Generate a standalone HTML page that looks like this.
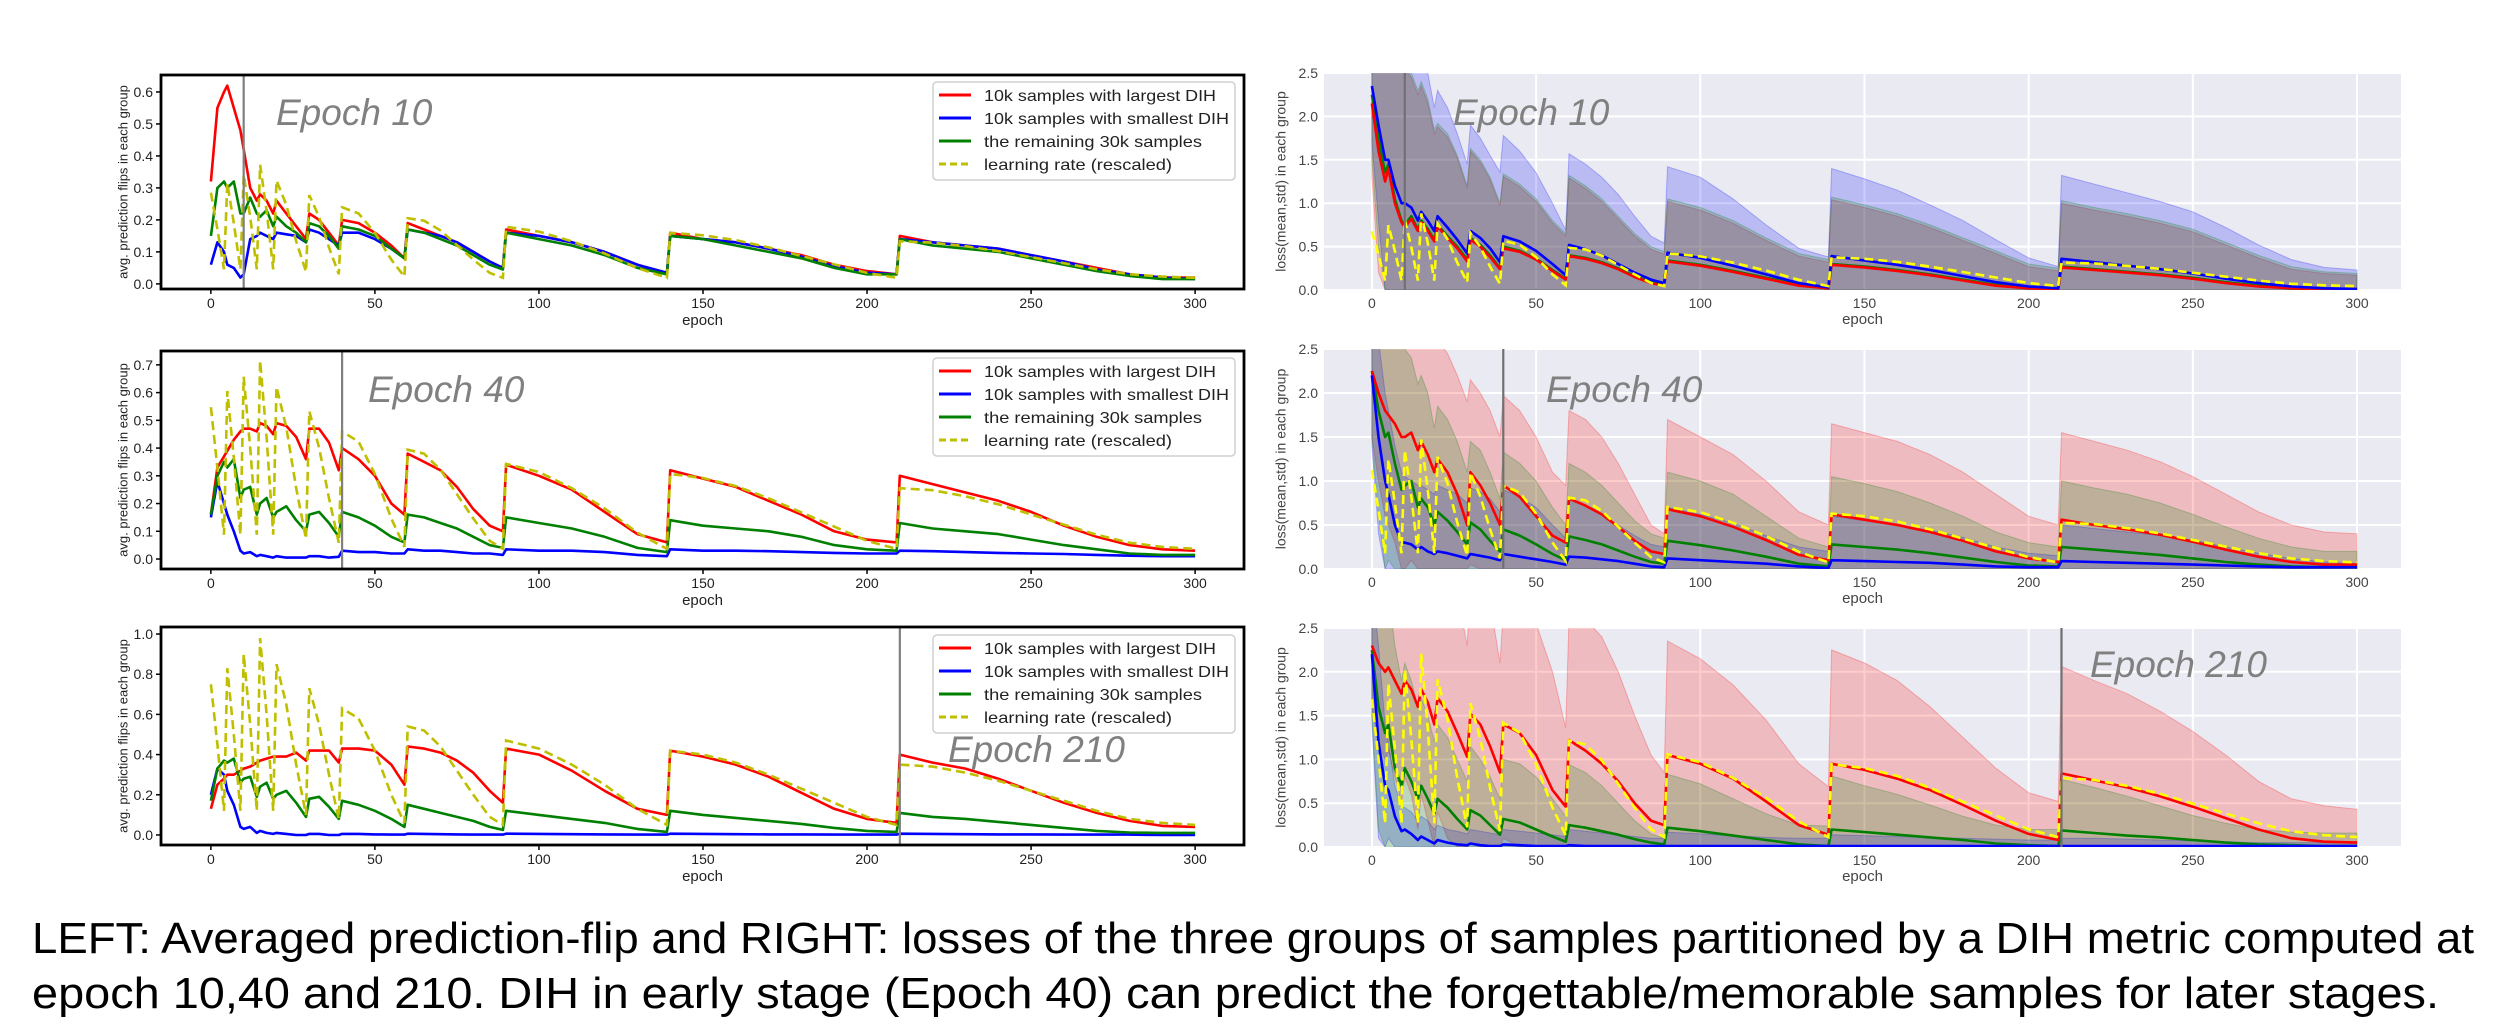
<!DOCTYPE html>
<html><head><meta charset="utf-8"><style>
html,body{margin:0;padding:0;background:#fff;}
svg{display:block;font-family:"Liberation Sans",sans-serif;}
</style></head><body>
<svg id="fig" width="2500" height="1036" viewBox="0 0 2500 1036" xmlns="http://www.w3.org/2000/svg">
<defs id="defs"></defs>
<g id="root"></g>
<text x="32" y="953" font-size="44" textLength="2442" lengthAdjust="spacingAndGlyphs" fill="#000">LEFT: Averaged prediction-flip and RIGHT: losses of the three groups of samples partitioned by a DIH metric computed at</text>
<text x="32" y="1008" font-size="44" textLength="2407" lengthAdjust="spacingAndGlyphs" fill="#000">epoch 10,40 and 210. DIH in early stage (Epoch 40) can predict the forgettable/memorable samples for later stages.</text>
</svg>
<script>
// ---------- data ----------
const epochs = [0,2,4,5,7,9,10,12,14,15,17,19,20,23,26,29,30,33,36,39,40,45,50,55,59,60,65,70,75,80,85,89,90,100,110,120,130,139,140,150,160,170,180,190,200,209,210,220,230,240,250,260,270,280,290,300];
const lrShape = [0.75,0.45,0.12,0.83,0.5,0.12,0.9,0.55,0.12,0.98,0.6,0.12,0.85,0.65,0.35,0.1,0.73,0.55,0.3,0.08,0.63,0.58,0.42,0.2,0.06,0.54,0.52,0.44,0.32,0.2,0.09,0.05,0.47,0.43,0.35,0.25,0.13,0.05,0.42,0.4,0.36,0.3,0.23,0.16,0.09,0.05,0.35,0.34,0.31,0.27,0.22,0.17,0.12,0.08,0.06,0.05];
const lrScaleLeft = [0.38,0.73,1.0];
const lrScaleRight = [0.9,1.5,2.25];
const dihEpochs = [10,40,210];
const leftYTicks = [[0,0.1,0.2,0.3,0.4,0.5,0.6],[0,0.1,0.2,0.3,0.4,0.5,0.6,0.7],[0,0.2,0.4,0.6,0.8,1.0]];
const xTicks = [0,50,100,150,200,250,300];
const rightYTicks = [0,0.5,1.0,1.5,2.0,2.5];
const legendLabels = ["10k samples with largest DIH","10k samples with smallest DIH","the remaining 30k samples","learning rate (rescaled)"];

// left: prediction flips
const l1Red = [0.32,0.55,0.6,0.62,0.55,0.48,0.42,0.3,0.26,0.28,0.26,0.22,0.26,0.22,0.18,0.14,0.22,0.2,0.16,0.12,0.2,0.19,0.16,0.12,0.08,0.19,0.17,0.15,0.13,0.1,0.07,0.05,0.17,0.15,0.13,0.1,0.06,0.03,0.16,0.14,0.13,0.11,0.09,0.06,0.04,0.03,0.15,0.13,0.12,0.11,0.09,0.07,0.05,0.03,0.02,0.02];
const l1Green = [0.15,0.3,0.32,0.3,0.32,0.22,0.22,0.27,0.22,0.21,0.23,0.18,0.21,0.18,0.16,0.13,0.19,0.18,0.15,0.11,0.18,0.17,0.15,0.11,0.08,0.17,0.16,0.14,0.12,0.09,0.06,0.045,0.16,0.14,0.12,0.09,0.05,0.03,0.15,0.14,0.12,0.1,0.08,0.05,0.03,0.03,0.14,0.12,0.11,0.1,0.08,0.06,0.04,0.025,0.015,0.015];
const l1Blue = [0.06,0.13,0.1,0.06,0.05,0.02,0.03,0.14,0.15,0.16,0.15,0.14,0.16,0.155,0.15,0.13,0.17,0.16,0.14,0.12,0.16,0.16,0.14,0.11,0.08,0.17,0.16,0.15,0.13,0.1,0.07,0.05,0.16,0.15,0.13,0.1,0.06,0.035,0.15,0.14,0.13,0.11,0.085,0.055,0.035,0.03,0.14,0.13,0.12,0.11,0.09,0.07,0.045,0.03,0.02,0.015];
const l2Red = [0.16,0.33,0.37,0.39,0.43,0.46,0.47,0.47,0.46,0.49,0.48,0.45,0.49,0.48,0.44,0.36,0.47,0.47,0.42,0.32,0.4,0.36,0.3,0.2,0.16,0.38,0.35,0.32,0.26,0.18,0.12,0.1,0.34,0.3,0.25,0.17,0.09,0.06,0.32,0.29,0.26,0.21,0.16,0.1,0.07,0.06,0.3,0.27,0.24,0.21,0.17,0.12,0.08,0.05,0.035,0.03];
const l2Green = [0.16,0.3,0.35,0.33,0.36,0.22,0.25,0.26,0.16,0.2,0.22,0.15,0.17,0.19,0.14,0.1,0.16,0.17,0.13,0.08,0.17,0.15,0.12,0.08,0.06,0.16,0.15,0.13,0.11,0.08,0.05,0.04,0.15,0.13,0.11,0.08,0.04,0.025,0.14,0.12,0.11,0.1,0.08,0.05,0.035,0.03,0.13,0.11,0.1,0.09,0.07,0.05,0.035,0.02,0.015,0.015];
const l2Blue = [0.15,0.28,0.2,0.16,0.1,0.03,0.02,0.025,0.01,0.015,0.01,0.005,0.01,0.005,0.005,0.005,0.01,0.01,0.005,0.008,0.03,0.025,0.025,0.02,0.02,0.035,0.03,0.03,0.025,0.02,0.02,0.015,0.035,0.03,0.03,0.025,0.015,0.01,0.035,0.03,0.03,0.028,0.025,0.022,0.02,0.02,0.03,0.028,0.025,0.022,0.02,0.018,0.015,0.012,0.01,0.01];
const l3Red = [0.13,0.25,0.28,0.3,0.3,0.32,0.33,0.34,0.36,0.37,0.38,0.39,0.39,0.39,0.41,0.37,0.42,0.42,0.42,0.36,0.43,0.43,0.42,0.35,0.25,0.44,0.43,0.41,0.37,0.31,0.22,0.16,0.43,0.4,0.32,0.22,0.13,0.1,0.42,0.39,0.35,0.29,0.21,0.13,0.08,0.06,0.4,0.36,0.33,0.28,0.22,0.16,0.11,0.07,0.045,0.04];
const l3Green = [0.17,0.33,0.37,0.36,0.38,0.26,0.28,0.29,0.19,0.24,0.26,0.18,0.2,0.22,0.16,0.09,0.18,0.19,0.14,0.08,0.17,0.15,0.12,0.08,0.04,0.15,0.13,0.11,0.09,0.07,0.04,0.025,0.12,0.1,0.08,0.06,0.03,0.015,0.12,0.1,0.085,0.07,0.055,0.035,0.02,0.015,0.11,0.09,0.08,0.065,0.05,0.035,0.02,0.012,0.01,0.01];
const l3Blue = [0.2,0.33,0.3,0.22,0.15,0.04,0.03,0.04,0.01,0.02,0.01,0.005,0.01,0.005,0.0,0.0,0.005,0.005,0.0,0.0,0.005,0.005,0.003,0.002,0.002,0.006,0.005,0.004,0.003,0.002,0.002,0.002,0.006,0.005,0.004,0.003,0.002,0.002,0.006,0.005,0.004,0.003,0.003,0.002,0.002,0.002,0.006,0.005,0.004,0.003,0.003,0.002,0.002,0.002,0.0,0.0];

// right: losses (mean) and upper band (mean+std)
const r1Red = [2.15,1.6,1.25,1.4,1.0,0.78,0.72,0.82,0.68,0.78,0.68,0.56,0.73,0.6,0.48,0.33,0.58,0.5,0.38,0.24,0.48,0.44,0.35,0.22,0.12,0.39,0.36,0.31,0.24,0.15,0.08,0.05,0.33,0.28,0.21,0.13,0.05,0.02,0.29,0.26,0.22,0.17,0.11,0.05,0.02,0.01,0.26,0.23,0.2,0.17,0.13,0.08,0.04,0.02,0.01,0.01];
const r1Green = [2.25,1.75,1.35,1.45,1.05,0.8,0.75,0.85,0.7,0.8,0.7,0.58,0.75,0.62,0.5,0.35,0.6,0.52,0.4,0.25,0.5,0.45,0.36,0.23,0.13,0.4,0.37,0.32,0.25,0.16,0.09,0.06,0.34,0.29,0.22,0.14,0.06,0.02,0.3,0.27,0.23,0.18,0.12,0.06,0.03,0.01,0.27,0.24,0.21,0.18,0.14,0.09,0.05,0.02,0.01,0.01];
const r1Blue = [2.35,1.9,1.5,1.5,1.2,1.0,1.0,0.95,0.8,0.9,0.8,0.68,0.85,0.72,0.58,0.42,0.68,0.6,0.48,0.32,0.62,0.56,0.45,0.3,0.17,0.52,0.47,0.4,0.3,0.2,0.12,0.08,0.43,0.37,0.28,0.18,0.08,0.03,0.39,0.34,0.29,0.23,0.16,0.09,0.04,0.02,0.36,0.32,0.28,0.24,0.19,0.13,0.08,0.04,0.02,0.01];
const r1RedHi = [3,3,3,3,3,3,2.55,2.45,2.25,2.35,2.15,1.8,1.88,1.76,1.52,1.17,1.6,1.47,1.27,0.97,1.31,1.19,1.02,0.77,0.62,1.29,1.17,1.02,0.82,0.62,0.47,0.41,1.02,0.92,0.77,0.57,0.39,0.32,1.04,0.95,0.85,0.72,0.57,0.42,0.27,0.22,1.0,0.92,0.85,0.77,0.67,0.52,0.37,0.24,0.19,0.17];
const r1GreenHi = [3,3,3,3,3,3,2.6,2.5,2.3,2.4,2.2,1.85,1.92,1.8,1.55,1.2,1.63,1.5,1.3,1.0,1.34,1.22,1.05,0.8,0.65,1.32,1.2,1.05,0.85,0.65,0.5,0.44,1.05,0.95,0.8,0.6,0.42,0.35,1.07,0.98,0.88,0.75,0.6,0.45,0.3,0.25,1.03,0.95,0.88,0.8,0.7,0.55,0.4,0.27,0.21,0.19];
const r1BlueHi = [3,3,3,3,3,3,3,3,2.8,2.9,2.5,2.1,2.3,2.1,1.8,1.45,1.9,1.75,1.55,1.36,1.78,1.6,1.35,1.0,0.69,1.57,1.45,1.3,1.1,0.85,0.62,0.54,1.42,1.3,1.05,0.75,0.48,0.38,1.4,1.28,1.15,0.98,0.8,0.58,0.37,0.27,1.32,1.22,1.12,1.02,0.9,0.72,0.52,0.35,0.26,0.23];
const r2Red = [2.25,2.0,1.8,1.75,1.65,1.5,1.5,1.55,1.35,1.45,1.3,1.1,1.25,1.1,0.85,0.5,1.1,0.95,0.75,0.5,0.95,0.82,0.6,0.38,0.3,0.8,0.72,0.62,0.48,0.32,0.2,0.17,0.68,0.6,0.48,0.33,0.16,0.1,0.62,0.56,0.5,0.42,0.32,0.2,0.12,0.08,0.56,0.5,0.45,0.39,0.31,0.22,0.14,0.08,0.05,0.05];
const r2Green = [2.25,1.8,1.5,1.55,1.2,0.9,0.95,1.0,0.7,0.8,0.7,0.5,0.65,0.55,0.42,0.28,0.53,0.45,0.32,0.2,0.45,0.38,0.28,0.17,0.1,0.37,0.33,0.28,0.21,0.14,0.08,0.06,0.32,0.27,0.21,0.14,0.06,0.03,0.28,0.25,0.22,0.18,0.13,0.08,0.04,0.03,0.25,0.22,0.19,0.16,0.12,0.08,0.05,0.03,0.02,0.02];
const r2Blue = [2.2,1.5,1.0,0.85,0.5,0.3,0.3,0.28,0.22,0.25,0.2,0.17,0.2,0.18,0.15,0.12,0.17,0.15,0.13,0.1,0.17,0.14,0.11,0.08,0.05,0.14,0.13,0.11,0.09,0.06,0.03,0.02,0.12,0.1,0.08,0.06,0.03,0.01,0.1,0.09,0.08,0.07,0.05,0.03,0.02,0.02,0.09,0.08,0.07,0.06,0.05,0.04,0.03,0.02,0.02,0.02];
const r2RedHi = [3,3,3,3,3,3,3,3,3,3,3,3,2.6,2.45,2.2,1.9,2.15,2.0,1.8,1.5,1.97,1.8,1.5,1.1,0.95,1.8,1.7,1.5,1.2,0.85,0.5,0.4,1.7,1.5,1.3,1.0,0.65,0.5,1.65,1.55,1.45,1.3,1.1,0.85,0.6,0.5,1.55,1.45,1.35,1.22,1.05,0.85,0.65,0.5,0.42,0.4];
const r2GreenHi = [3,3,3,3,3,3,2.5,2.4,2.1,2.2,2.0,1.6,1.85,1.7,1.45,1.1,1.45,1.35,1.1,0.8,1.33,1.2,1.0,0.7,0.5,1.2,1.1,0.95,0.75,0.55,0.4,0.35,1.1,1.0,0.85,0.6,0.35,0.25,1.05,0.97,0.88,0.75,0.6,0.42,0.3,0.25,1.0,0.92,0.85,0.75,0.62,0.48,0.35,0.25,0.2,0.2];
const r2BlueHi = [3,2.6,2.0,1.8,1.4,1.1,1.05,1.0,0.95,0.95,0.9,0.85,0.95,0.9,0.85,0.75,0.92,0.88,0.8,0.65,0.9,0.82,0.7,0.5,0.35,0.8,0.72,0.62,0.5,0.38,0.28,0.25,0.7,0.62,0.52,0.38,0.25,0.2,0.6,0.55,0.5,0.44,0.36,0.25,0.18,0.15,0.5,0.46,0.42,0.38,0.33,0.25,0.18,0.12,0.08,0.06];
const r3Red = [2.3,2.1,2.0,2.05,1.9,1.75,1.9,1.8,1.6,1.8,1.65,1.4,1.7,1.55,1.3,1.03,1.52,1.4,1.15,0.85,1.4,1.3,1.05,0.65,0.46,1.22,1.1,0.95,0.75,0.5,0.3,0.25,1.05,0.95,0.78,0.52,0.25,0.14,0.95,0.88,0.78,0.65,0.48,0.3,0.15,0.08,0.84,0.76,0.68,0.58,0.46,0.33,0.2,0.1,0.06,0.05];
const r3Green = [2.25,1.6,1.3,1.4,0.9,0.7,0.9,0.75,0.55,0.7,0.55,0.38,0.55,0.45,0.32,0.2,0.42,0.36,0.25,0.14,0.32,0.28,0.2,0.12,0.06,0.25,0.22,0.18,0.14,0.09,0.05,0.03,0.22,0.18,0.13,0.08,0.03,0.01,0.2,0.17,0.14,0.11,0.08,0.04,0.02,0.01,0.19,0.16,0.13,0.11,0.08,0.05,0.03,0.02,0.01,0.01];
const r3Blue = [2.2,1.2,0.7,0.65,0.35,0.18,0.2,0.15,0.08,0.12,0.08,0.04,0.08,0.05,0.03,0.02,0.04,0.02,0.01,0.01,0.03,0.02,0.01,0.01,0.01,0.02,0.01,0.01,0.01,0.01,0.01,0.01,0.01,0.01,0.01,0.01,0.01,0.01,0.01,0.01,0.01,0.01,0.01,0.01,0.01,0.01,0.01,0.01,0.01,0.01,0.01,0.01,0.01,0.01,0.01,0.01];
const r3RedHi = [3,3,3,3,3,3,3,3,3,3,3,3,3,3,2.9,2.3,3,3,2.8,2.1,2.7,2.75,2.55,2.0,1.36,2.6,2.6,2.4,2.0,1.5,1.05,0.85,2.35,2.15,1.85,1.45,0.95,0.69,2.25,2.1,1.9,1.6,1.25,0.9,0.62,0.52,2.06,1.9,1.75,1.55,1.32,1.05,0.75,0.55,0.47,0.43];
const r3GreenHi = [3,3,2.8,2.9,2.3,1.9,2.1,1.9,1.6,1.7,1.5,1.2,1.4,1.25,1.0,0.75,1.15,1.0,0.8,0.55,1.0,0.95,0.8,0.55,0.35,0.94,0.85,0.7,0.5,0.3,0.15,0.1,0.83,0.72,0.55,0.38,0.25,0.24,0.81,0.7,0.6,0.48,0.35,0.25,0.2,0.2,0.77,0.68,0.58,0.47,0.36,0.27,0.2,0.17,0.16,0.16];
const r3BlueHi = [3,2.3,1.4,1.2,0.7,0.45,0.45,0.4,0.3,0.35,0.3,0.2,0.25,0.2,0.18,0.15,0.2,0.18,0.16,0.14,0.2,0.18,0.16,0.14,0.12,0.2,0.18,0.16,0.14,0.12,0.1,0.1,0.17,0.15,0.13,0.11,0.1,0.1,0.14,0.13,0.12,0.11,0.1,0.09,0.08,0.08,0.1,0.1,0.09,0.08,0.07,0.06,0.05,0.05,0.05,0.05];

// ---------- drawing ----------
const NS = "http://www.w3.org/2000/svg";
const root = document.getElementById("root");
const defs = document.getElementById("defs");
function mk(tag, attrs, parent) {
  const e = document.createElementNS(NS, tag);
  for (const k in attrs) e.setAttribute(k, attrs[k]);
  (parent || root).appendChild(e);
  return e;
}
function scale(d0, d1, r0, r1) { return v => r0 + (v - d0) / (d1 - d0) * (r1 - r0); }
function pathFrom(xs, ys, sx, sy) {
  return xs.map((x, i) => (i ? "L" : "M") + sx(x).toFixed(1) + "," + sy(ys[i]).toFixed(1)).join("");
}

const leftPanels = [
  {top:75, bot:289, y0:-0.016, y1:0.653, red:l1Red, blue:l1Blue, green:l1Green, leg:82, txt:[276,125]},
  {top:351, bot:569, y0:-0.036, y1:0.75, red:l2Red, blue:l2Blue, green:l2Green, leg:358, txt:[368,402]},
  {top:627, bot:845, y0:-0.05, y1:1.035, red:l3Red, blue:l3Blue, green:l3Green, leg:635, txt:[948,762]}
];
const rightPanels = [
  {top:73, bot:290, red:r1Red, blue:r1Blue, green:r1Green, redHi:r1RedHi, blueHi:r1BlueHi, greenHi:r1GreenHi, txt:[1453,125]},
  {top:349, bot:569, red:r2Red, blue:r2Blue, green:r2Green, redHi:r2RedHi, blueHi:r2BlueHi, greenHi:r2GreenHi, txt:[1546,402]},
  {top:628, bot:847, red:r3Red, blue:r3Blue, green:r3Green, redHi:r3RedHi, blueHi:r3BlueHi, greenHi:r3GreenHi, txt:[2090,677]}
];

leftPanels.forEach((p, i) => {
  const L = 161, R = 1244;
  const sx = scale(-15.2, 314.9, L, R);
  const sy = scale(p.y0, p.y1, p.bot, p.top);
  const g = mk("g", {});
  
  
  const cid = "lclip" + i;
  const cp = mk("clipPath", {id: cid}, defs);
  mk("rect", {x: L, y: p.top, width: R - L, height: p.bot - p.top}, cp);
  leftYTicks[i].forEach(v => {
    const y = sy(v);
    mk("line", {x1: L - 5, x2: L, y1: y, y2: y, stroke: "#000", "stroke-width": 1.5}, g);
    const t = mk("text", {x: L - 8, y: y + 5, "font-size": 14, "text-anchor": "end", fill: "#222"}, g);
    t.textContent = v.toFixed(1);
    
    
  });
  xTicks.forEach(v => {
    const x = sx(v);
    mk("line", {x1: x, x2: x, y1: p.bot, y2: p.bot + 5, stroke: "#000", "stroke-width": 1.5}, g);
    const t = mk("text", {x: x, y: p.bot + 19, "font-size": 14, "text-anchor": "middle", fill: "#222"}, g);
    t.textContent = v;
    
    
  });
  const xl = mk("text", {x: (L + R) / 2, y: p.bot + 36, "font-size": 15, "text-anchor": "middle", fill: "#222"}, g);
  xl.textContent = "epoch";
  
  
  const yc = (p.top + p.bot) / 2;
  const yl = mk("text", {x: 124, y: yc, "font-size": 13, "text-anchor": "middle", fill: "#222", transform: "rotate(-90 124 " + yc + ")", "dominant-baseline": "middle"}, g);
  yl.textContent = "avg. prediction flips in each group";
  
  
  const plot = mk("g", {"clip-path": "url(#" + cid + ")"}, g);
  const lr = lrShape.map(v => v * lrScaleLeft[i]);
  const series = [[p.red, "#ff0000", "line-largest-dih"], [p.blue, "#0000ff", "line-smallest-dih"], [p.green, "#008000", "line-remaining"]];
  series.forEach(s => {
    const e = mk("path", {d: pathFrom(epochs, s[0], sx, sy), fill: "none", stroke: s[1], "stroke-width": 2.6, "stroke-linejoin": "round"}, plot);
    
    
  });
  const lre = mk("path", {d: pathFrom(epochs, lr, sx, sy), fill: "none", stroke: "#bfbf00", "stroke-width": 2.6, "stroke-dasharray": "9,5"}, plot);
  
  
  const vl = mk("line", {x1: sx(dihEpochs[i]), x2: sx(dihEpochs[i]), y1: p.top, y2: p.bot, stroke: "#808080", "stroke-width": 2.2}, g);
  
  
  const et = mk("text", {x: p.txt[0], y: p.txt[1], "font-size": 37, "font-style": "italic", fill: "#808080"}, g);
  et.textContent = "Epoch " + dihEpochs[i];
  
  
  mk("rect", {x: L, y: p.top, width: R - L, height: p.bot - p.top, fill: "none", stroke: "#000", "stroke-width": 2.8}, g);
  const lg = mk("g", {}, g);
  
  
  mk("rect", {x: 933, y: p.leg, width: 302, height: 98, rx: 4, fill: "#fff", stroke: "#d0d0d0", "stroke-width": 1.5}, lg);
  const cols = ["#ff0000", "#0000ff", "#008000", "#bfbf00"];
  legendLabels.forEach((lab, k) => {
    const yy = p.leg + 13 + k * 23;
    const ln = mk("line", {x1: 939, x2: 971, y1: yy, y2: yy, stroke: cols[k], "stroke-width": 3, "stroke-dasharray": k === 3 ? "7,4" : "none"}, lg);
    
    
    const t = mk("text", {x: 984, y: yy + 6, "font-size": 16, fill: "#222", textLength: [232, 245, 218, 188][k], lengthAdjust: "spacingAndGlyphs"}, lg);
    t.textContent = lab;
    
    
  });
});

rightPanels.forEach((p, i) => {
  const L = 1324, R = 2401;
  const sx = scale(-14.6, 313.4, L, R);
  const sy = scale(0, 2.5, p.bot, p.top);
  const g = mk("g", {});
  
  
  const cid = "rclip" + i;
  const cp = mk("clipPath", {id: cid}, defs);
  mk("rect", {x: L, y: p.top, width: R - L, height: p.bot - p.top}, cp);
  mk("rect", {x: L, y: p.top, width: R - L, height: p.bot - p.top, fill: "#eaeaf2"}, g);
  rightYTicks.forEach(v => {
    const y = sy(v);
    mk("line", {x1: L, x2: R, y1: y, y2: y, stroke: "#fff", "stroke-width": 2}, g);
    const t = mk("text", {x: L - 6, y: y + 5, "font-size": 14, "text-anchor": "end", fill: "#444"}, g);
    t.textContent = v.toFixed(1);
    
    
  });
  xTicks.forEach(v => {
    const x = sx(v);
    mk("line", {x1: x, x2: x, y1: p.top, y2: p.bot, stroke: "#fff", "stroke-width": 2}, g);
    const t = mk("text", {x: x, y: p.bot + 18, "font-size": 14, "text-anchor": "middle", fill: "#444"}, g);
    t.textContent = v;
    
    
  });
  const xl = mk("text", {x: (L + R) / 2, y: p.bot + 34, "font-size": 15, "text-anchor": "middle", fill: "#444"}, g);
  xl.textContent = "epoch";
  
  
  const yc = (p.top + p.bot) / 2;
  const yl = mk("text", {x: 1282, y: yc, "font-size": 14, "text-anchor": "middle", fill: "#444", transform: "rotate(-90 1282 " + yc + ")", "dominant-baseline": "middle"}, g);
  yl.textContent = "loss(mean,std) in each group";
  
  
  const plot = mk("g", {"clip-path": "url(#" + cid + ")"}, g);
  const groups = [[p.red, p.redHi, "#ff0000", "largest-dih"], [p.blue, p.blueHi, "#0000ff", "smallest-dih"], [p.green, p.greenHi, "#008000", "remaining"]];
  groups.forEach(gr => {
    const mean = gr[0], hi = gr[1];
    const lo = mean.map((m, k) => Math.max(0, 2 * m - hi[k]));
    const d = pathFrom(epochs, hi, sx, sy) + epochs.slice().reverse().map((x, k) => "L" + sx(x).toFixed(1) + "," + sy(lo[lo.length - 1 - k]).toFixed(1)).join("") + "Z";
    const band = mk("path", {d: d, fill: gr[2], "fill-opacity": 0.2, stroke: gr[2], "stroke-opacity": 0.25, "stroke-width": 1}, plot);
    
    
  });
  const lr = lrShape.map(v => v * lrScaleRight[i]);
  [[p.green, "#008000", "line-remaining"], [p.red, "#ff0000", "line-largest-dih"], [p.blue, "#0000ff", "line-smallest-dih"]].forEach(s => {
    const e = mk("path", {d: pathFrom(epochs, s[0], sx, sy), fill: "none", stroke: s[1], "stroke-width": 2.6, "stroke-linejoin": "round"}, plot);
    
    
  });
  const lre = mk("path", {d: pathFrom(epochs, lr, sx, sy), fill: "none", stroke: "#ffff00", "stroke-width": 2.6, "stroke-dasharray": "9,5"}, plot);
  
  
  const vl = mk("line", {x1: sx(dihEpochs[i]), x2: sx(dihEpochs[i]), y1: p.top, y2: p.bot, stroke: "#707070", "stroke-width": 2.2}, g);
  
  
  const et = mk("text", {x: p.txt[0], y: p.txt[1], "font-size": 37, "font-style": "italic", fill: "#808080"}, g);
  et.textContent = "Epoch " + dihEpochs[i];
  
  
});
</script>
</body></html>
